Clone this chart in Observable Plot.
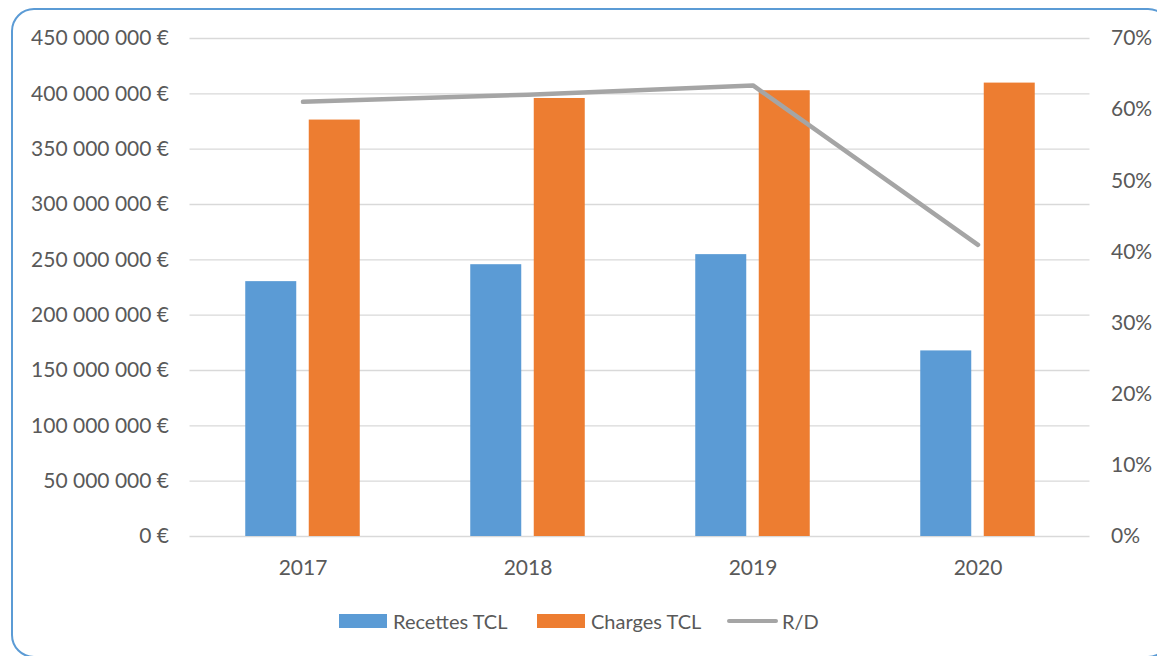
<!DOCTYPE html>
<html>
<head>
<meta charset="utf-8">
<script src="https://cdn.jsdelivr.net/npm/d3@7"></script>
<script src="https://cdn.jsdelivr.net/npm/@observablehq/plot@0.6"></script>
<style>
  html, body { margin: 0; padding: 0; background: #fff; overflow: hidden; width: 1157px; height: 656px; }
  #frame { position: absolute; left: 11px; top: 8px; width: 1160px; height: 650px; box-sizing: border-box;
           border: 2px solid #5B9BD5; border-radius: 23px; pointer-events: none; }
  #chart { position: absolute; left: 0; top: 0; }
  #legend { position: absolute; left: 0; top: 606px; width: 1157px; height: 30px;
            font-family: Lato, sans-serif; font-size: 20px; color: #595959; }
  .sw { display: inline-block; }
  .item { position: absolute; top: 0; height: 30px; display: flex; align-items: center; white-space: nowrap; }
</style>
</head>
<body>
<div id="chart"></div>
<div id="legend">
  <div class="item" style="left:339px"><span class="sw" style="width:48px;height:14px;background:#5B9BD5;margin-right:6px"></span><span>Recettes TCL</span></div>
  <div class="item" style="left:537px"><span class="sw" style="width:48px;height:14px;background:#ED7D31;margin-right:6px"></span><span>Charges TCL</span></div>
  <div class="item" style="left:727px"><span class="sw" style="width:51px;height:4.5px;border-radius:3px;background:#A5A5A5;margin-right:4px"></span><span>R/D</span></div>
</div>
<div id="frame"></div>
<script>
const years = ["2017", "2018", "2019", "2020"];
const recettes = [230.3e6, 245.6e6, 254.7e6, 167.7e6];
const charges = [376.3e6, 395.8e6, 402.8e6, 409.7e6];
const ratioRD = [61.1, 62.1, 63.4, 41.0]; // percent
const euroTicks = [0, 50e6, 100e6, 150e6, 200e6, 250e6, 300e6, 350e6, 400e6, 450e6];
const pctTicks = [0, 10, 20, 30, 40, 50, 60, 70];

const euroMax = 450e6, pctMax = 70;
const pctToEuro = p => p / pctMax * euroMax;

const data = years.map((year, i) => ({year, recettes: recettes[i], charges: charges[i], rd: ratioRD[i]}));

const fmtEuro = d => d3.format(",")(d).replace(/,/g, " ") + " €";
const font = "Lato, sans-serif";

const chart = Plot.plot({
  width: 1157,
  height: 600,
  marginLeft: 189.5,
  marginRight: 67.5,
  marginTop: 38,
  marginBottom: 64,
  style: {fontFamily: font, fontSize: "21px", color: "#595959", background: "transparent"},
  x: {type: "band", domain: years, padding: 0},
  y: {domain: [0, euroMax], range: [536, 38]},
  marks: [
    Plot.gridY(euroTicks, {stroke: "#D9D9D9", strokeOpacity: 1, strokeWidth: 1.3}),
    Plot.barY(data, {x: "year", y: "recettes", fill: "#5B9BD5", insetLeft: 55.25, insetRight: 118.75}),
    Plot.barY(data, {x: "year", y: "charges", fill: "#ED7D31", insetLeft: 118.75, insetRight: 55.25}),
    Plot.line(data, {x: "year", y: d => pctToEuro(d.rd), stroke: "#A5A5A5", strokeWidth: 4.5,
                     strokeLinecap: "round", strokeLinejoin: "round"}),
    Plot.axisY(euroTicks, {anchor: "left", tickSize: 0, tickPadding: 21, tickFormat: fmtEuro, label: null,
                           fill: "#595959", fontSize: 21}),
    Plot.axisY(pctTicks.map(pctToEuro), {anchor: "right", tickSize: 0, tickPadding: 21,
                           tickFormat: d => Math.round(d / euroMax * pctMax) + "%", label: null,
                           fill: "#595959", fontSize: 21}),
    Plot.axisX({tickSize: 0, tickPadding: 24, label: null, fill: "#595959", fontSize: 21})
  ]
});
document.getElementById("chart").append(chart);
</script>
</body>
</html>
